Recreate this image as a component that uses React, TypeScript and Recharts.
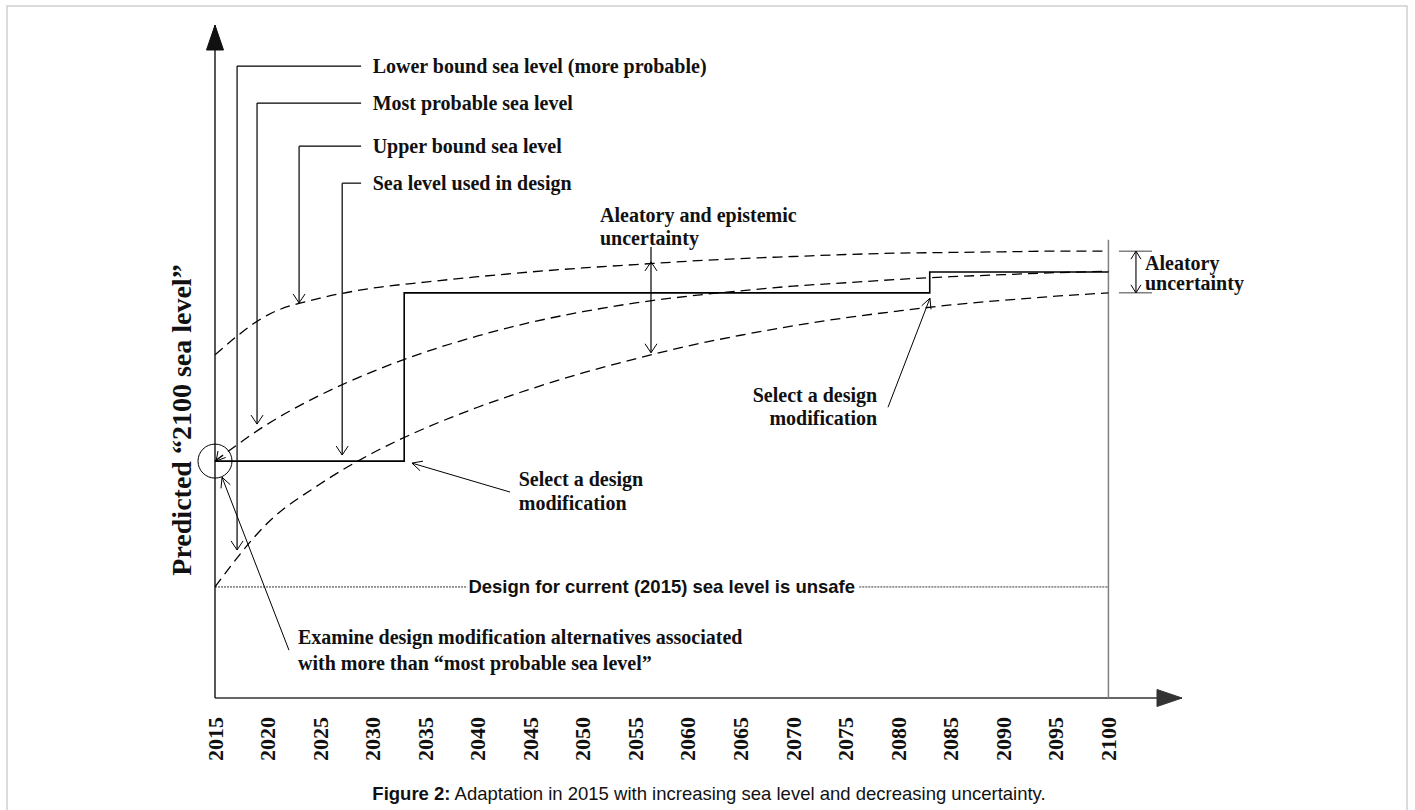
import React from 'react';
import { LineChart, Line, XAxis, YAxis, ReferenceLine, ReferenceDot } from 'recharts';

// years on the axis and the three projections (arbitrary sea level units, 0-100)
const years = [2015, 2020, 2025, 2030, 2035, 2040, 2045, 2050, 2055, 2060, 2065, 2070, 2075, 2080, 2085, 2090, 2095, 2100];
const upperBound = [51.0, 56.9, 59.4, 60.9, 61.8, 62.6, 63.3, 63.9, 64.4, 64.9, 65.3, 65.6, 65.9, 66.1, 66.2, 66.3, 66.4, 66.4];
const mostProbable = [35.2, 40.7, 45.0, 48.5, 51.4, 53.8, 55.8, 57.4, 58.7, 59.7, 60.5, 61.2, 61.7, 62.2, 62.6, 62.9, 63.2, 63.4];
const lowerBound = [16.5, 26.0, 31.8, 36.4, 40.1, 43.2, 45.9, 48.3, 50.4, 52.3, 53.9, 55.3, 56.5, 57.5, 58.4, 59.1, 59.7, 60.2];

// sea level used in design (step changes)
const stepYears = [2015, 2033, 2083, 2100];
const designLevel = [35.2, 60.2, 63.3, 63.3];

const unsafeLevel = 16.5;

// callouts top left
const calloutTexts = ['Lower bound sea level (more probable)', 'Most probable sea level', 'Upper bound sea level', 'Sea level used in design'];
const calloutYears = [2017.1, 2019.0, 2023.0, 2027.1];
const calloutHeights = [93.9, 88.4, 82.0, 76.5];
const calloutTips = [22.0, 40.7, 58.7, 36.1];

const curveData = years.map((year, i) => ({ year, upper: upperBound[i], probable: mostProbable[i], lower: lowerBound[i] }));
const stepData = stepYears.map((year, i) => ({ year, level: designLevel[i] }));

const SERIF = '"Liberation Serif", "Times New Roman", serif';
const SANS = '"Liberation Sans", Arial, sans-serif';

const headPath = (tx: number, ty: number, fx: number, fy: number, len: number, half: number, closed?: boolean) => {
  const dx = tx - fx, dy = ty - fy;
  const d = Math.hypot(dx, dy) || 1;
  const ux = dx / d, uy = dy / d;
  const bx = tx - ux * len, by = ty - uy * len;
  const px = -uy * half, py = ux * half;
  return `M${bx + px},${by + py} L${tx},${ty} L${bx - px},${by - py}${closed ? ' Z' : ''}`;
};

type ArrowOpts = { start?: boolean; end?: boolean; filled?: boolean; color?: string; width?: number; dash?: string; len?: number; half?: number; noLine?: boolean };

const arrow = (o: ArrowOpts = {}) => (p: any) => {
  const { x1, y1, x2, y2 } = p;
  const color = o.color ?? '#000';
  const len = o.len ?? 9;
  const half = o.half ?? 5;
  const hp = o.filled ? { fill: color, stroke: color, strokeWidth: 1 } : { fill: 'none', stroke: color, strokeWidth: 1 };
  return (
    <g>
      {!o.noLine && <line x1={x1} y1={y1} x2={x2} y2={y2} stroke={color} strokeWidth={o.width ?? 1} strokeDasharray={o.dash} />}
      {o.end && <path d={headPath(x2, y2, x1, y1, len, half, o.filled)} {...hp} />}
      {o.start && <path d={headPath(x1, y1, x2, y2, len, half, o.filled)} {...hp} />}
    </g>
  );
};

const label = (text: string, anchor: 'start' | 'middle' | 'end' = 'start', size = 20, family = SERIF) => (p: any) => (
  <text x={p.cx} y={p.cy} textAnchor={anchor} dominantBaseline="central" fontFamily={family} fontWeight="bold" fontSize={size} fill="#111">
    {text}
  </text>
);

const YearTick = (p: any) => (
  <text
    transform={`translate(${p.x},${p.y + 19}) rotate(-90)`}
    textAnchor="end"
    dominantBaseline="central"
    fontFamily={SERIF}
    fontWeight="bold"
    fontSize={22}
    fill="#111"
  >
    {p.payload.value}
  </text>
);

const seg = (x1: number, y1: number, x2: number, y2: number) => [{ x: x1, y: y1 }, { x: x2, y: y2 }];

export default function App() {
  return (
    <div style={{ position: 'absolute', left: 0, top: 0, width: 1415, height: 810, background: '#fff' }}>
      <LineChart width={1415} height={810} margin={{ top: 25, left: 215, right: 233, bottom: 52 }}>
        <XAxis
          dataKey="year"
          type="number"
          domain={[2015, 2107]}
          ticks={years}
          allowDataOverflow
          axisLine={false}
          tickLine={false}
          tickSize={0}
          tickMargin={0}
          height={60}
          tick={YearTick}
        />
        <YAxis type="number" domain={[0, 100]} hide allowDataOverflow />

        {/* axes with arrow heads */}
        <ReferenceLine segment={seg(2015, 0, 2107, 0)} ifOverflow="visible" shape={arrow({ end: true, filled: true, color: '#333', width: 1.6, len: 25, half: 8.5 })} />
        <ReferenceLine segment={seg(2015, 0, 2015, 100)} ifOverflow="visible" shape={arrow({ end: true, filled: true, color: '#111', width: 1.4, len: 25, half: 8.5 })} />
        <ReferenceLine segment={seg(2100, 0, 2100, 68.1)} ifOverflow="visible" shape={arrow({ color: '#808080', width: 1.5 })} />

        {/* current design level */}
        <ReferenceLine segment={seg(2015, unsafeLevel, 2039.0, unsafeLevel)} ifOverflow="visible" shape={arrow({ dash: '2 1', width: 0.8 })} />
        <ReferenceLine segment={seg(2076.3, unsafeLevel, 2100, unsafeLevel)} ifOverflow="visible" shape={arrow({ dash: '2 1', width: 0.8 })} />
        <ReferenceDot x={2057.5} y={unsafeLevel} ifOverflow="visible" shape={label('Design for current (2015) sea level is unsafe', 'middle', 18.5, SANS)} />

        <Line data={curveData} dataKey="upper" type="monotone" stroke="#000" strokeWidth={1.3} strokeDasharray="10 6" dot={false} isAnimationActive={false} />
        <Line data={curveData} dataKey="probable" type="monotone" stroke="#000" strokeWidth={1.3} strokeDasharray="10 6" dot={false} isAnimationActive={false} />
        <Line data={curveData} dataKey="lower" type="monotone" stroke="#000" strokeWidth={1.3} strokeDasharray="10 6" dot={false} isAnimationActive={false} />
        <Line data={stepData} dataKey="level" type="stepAfter" stroke="#000" strokeWidth={1.6} dot={false} isAnimationActive={false} />

        {/* callouts */}
        {calloutTexts.map((t, i) => (
          <ReferenceLine key={`h${i}`} segment={seg(calloutYears[i], calloutHeights[i], 2028.9, calloutHeights[i])} ifOverflow="visible" shape={arrow({ width: 1.2 })} />
        ))}
        {calloutTexts.map((t, i) => (
          <ReferenceLine key={`v${i}`} segment={seg(calloutYears[i], calloutHeights[i], calloutYears[i], calloutTips[i])} ifOverflow="visible" shape={arrow({ end: true, width: 1.2, len: 9, half: 6 })} />
        ))}
        {calloutTexts.map((t, i) => (
          <ReferenceDot key={`t${i}`} x={2030.0} y={calloutHeights[i]} ifOverflow="visible" shape={label(t)} />
        ))}

        {/* circle at the start */}
        <ReferenceDot x={2015} y={35.2} r={17} fill="none" stroke="#000" strokeWidth={1} ifOverflow="visible" />
        <ReferenceLine segment={seg(2016.4, 37.6, 2015.1, 35.2)} ifOverflow="visible" shape={arrow({ end: true, noLine: true, len: 9, half: 5 })} />

        {/* examine alternatives */}
        <ReferenceLine segment={seg(2022.04, 7.1, 2015.67, 32.8)} ifOverflow="visible" shape={arrow({ end: true, len: 10, half: 5 })} />
        <ReferenceDot x={2022.9} y={9.1} ifOverflow="visible" shape={label('Examine design modification alternatives associated')} />
        <ReferenceDot x={2022.9} y={5.2} ifOverflow="visible" shape={label('with more than \u201cmost probable sea level\u201d')} />

        {/* first modification */}
        <ReferenceLine segment={seg(2043.07, 30.6, 2033.74, 34.9)} ifOverflow="visible" shape={arrow({ end: true, len: 10, half: 5 })} />
        <ReferenceDot x={2043.9} y={32.5} ifOverflow="visible" shape={label('Select a design')} />
        <ReferenceDot x={2043.9} y={29.0} ifOverflow="visible" shape={label('modification')} />

        {/* second modification */}
        <ReferenceLine segment={seg(2079.03, 43.2, 2083.02, 59.4)} ifOverflow="visible" shape={arrow({ end: true, len: 10, half: 5 })} />
        <ReferenceDot x={2078.0} y={45.0} ifOverflow="visible" shape={label('Select a design', 'end')} />
        <ReferenceDot x={2078.0} y={41.6} ifOverflow="visible" shape={label('modification', 'end')} />

        {/* aleatory and epistemic */}
        <ReferenceLine segment={seg(2056.48, 67.0, 2056.48, 64.8)} ifOverflow="visible" shape={arrow({ width: 1.2 })} />
        <ReferenceLine segment={seg(2056.48, 64.8, 2056.48, 51.3)} ifOverflow="visible" shape={arrow({ start: true, end: true, width: 1.2, len: 9, half: 6 })} />
        <ReferenceDot x={2051.63} y={71.7} ifOverflow="visible" shape={label('Aleatory and epistemic')} />
        <ReferenceDot x={2051.63} y={68.3} ifOverflow="visible" shape={label('uncertainty')} />

        {/* aleatory only */}
        <ReferenceLine segment={seg(2101.0, 66.4, 2104.14, 66.4)} ifOverflow="visible" shape={arrow({ color: '#808080', width: 1.5 })} />
        <ReferenceLine segment={seg(2101.0, 60.2, 2104.14, 60.2)} ifOverflow="visible" shape={arrow({ color: '#808080', width: 1.5 })} />
        <ReferenceLine segment={seg(2102.62, 66.4, 2102.62, 60.2)} ifOverflow="visible" shape={arrow({ start: true, end: true, width: 1.1, len: 8, half: 5 })} />
        <ReferenceDot x={2103.48} y={64.6} ifOverflow="visible" shape={label('Aleatory')} />
        <ReferenceDot x={2103.48} y={61.7} ifOverflow="visible" shape={label('uncertainty')} />
      </LineChart>

      <svg width={1415} height={810} style={{ position: 'absolute', left: 0, top: 0, pointerEvents: 'none' }}>
        <rect x={7} y={6} width={1400} height={820} fill="none" stroke="#cfcfcf" strokeWidth={1.5} />
        <text
          x={191}
          y={420}
          transform="rotate(-90 191 420)"
          textAnchor="middle"
          fontFamily={SERIF}
          fontWeight="bold"
          fontSize={28}
          fill="#111"
        >
          Predicted {'\u201c'}2100 sea level{'\u201d'}
        </text>
        <text x={709} y={793} textAnchor="middle" dominantBaseline="central" fontFamily={SANS} fontSize={18.5} fill="#111">
          <tspan fontWeight="bold">Figure 2:</tspan> Adaptation in 2015 with increasing sea level and decreasing uncertainty.
        </text>
      </svg>
    </div>
  );
}
